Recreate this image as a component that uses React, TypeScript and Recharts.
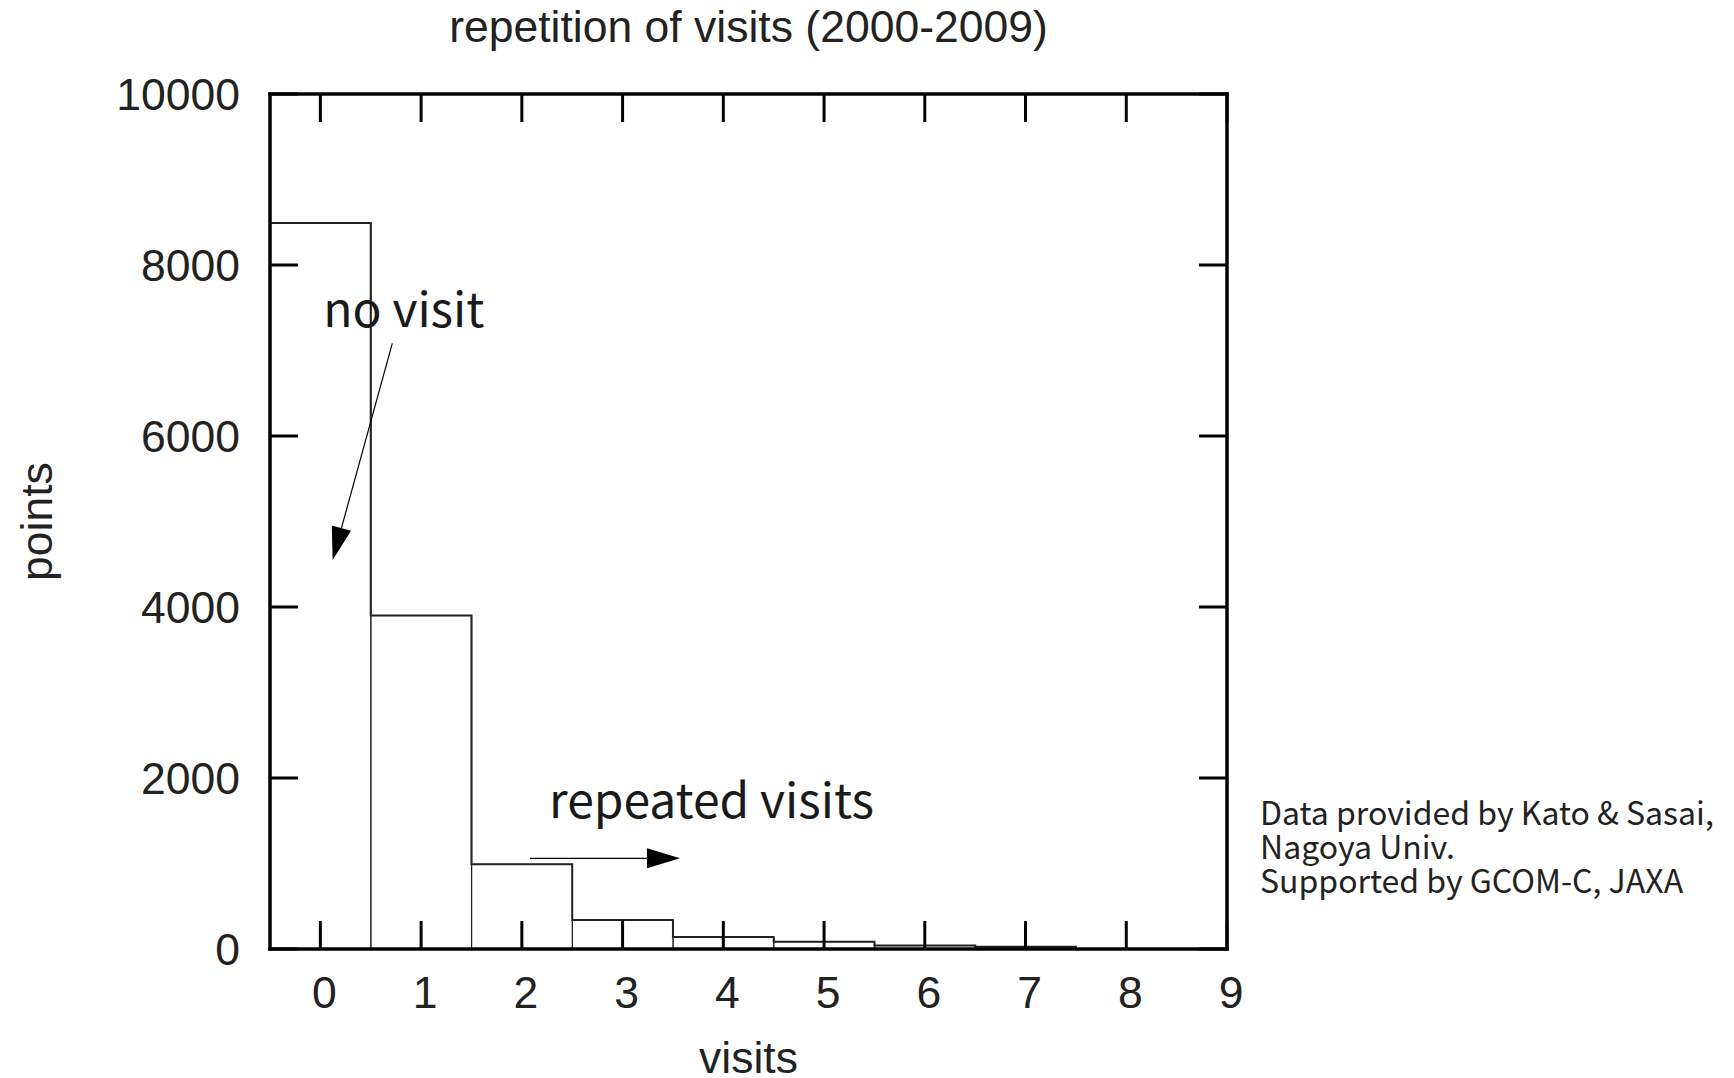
import { Bar, ComposedChart, Line, ReferenceDot, ReferenceLine, XAxis, YAxis } from "recharts";

// histogram: number of points by how many times they were visited
const visits = [0, 1, 2, 3, 4, 5, 6, 7, 8];
const points = [8490, 3900, 990, 340, 140, 85, 40, 25, 0];

const xTicks = [0, 1, 2, 3, 4, 5, 6, 7, 8, 9];
const yTicks = [0, 2000, 4000, 6000, 8000, 10000];

const credits = ["Data provided by Kato & Sasai,", "Nagoya Univ.", "Supported by GCOM-C, JAXA"];

const barData = visits.map((v, i) => ({ x: v, points: points[i] }));
// bin edges for the step outline (left edge of each bin, plus the closing edge)
const stepData = visits
  .map((v, i) => ({ x: v - 0.5, points: points[i] }))
  .concat([{ x: visits[visits.length - 1] + 0.5, points: 0 }]);

const W = 1718;
const H = 1070;
const PLOT_TOP = 86;
const PLOT_BOTTOM = 941;
const Y_AXIS_W = 262;
const RIGHT = 499;

const frame = { stroke: "#000", strokeWidth: 3.5, strokeLinecap: "square" as const };
const tickStroke = { stroke: "#000", strokeWidth: 3 };
const tickFont = { fontFamily: "'Liberation Sans', Arial, sans-serif", fontSize: 44.5, fill: "#222" };
const noteFont = "'Noto Sans CJK JP', 'Noto Sans', sans-serif";

// inner tick marks only, no label
const noLabel = () => <g />;

function arrowShape(p: any) {
  const { x1, y1, x2, y2 } = p;
  const a = Math.atan2(y2 - y1, x2 - x1);
  const len = 33;
  const half = 10;
  const bx = x2 - len * Math.cos(a);
  const by = y2 - len * Math.sin(a);
  const nx = -Math.sin(a);
  const ny = Math.cos(a);
  return (
    <g>
      <line x1={x1} y1={y1} x2={bx} y2={by} stroke="#000" strokeWidth={1.2} />
      <polygon
        points={`${x2},${y2} ${bx + nx * half},${by + ny * half} ${bx - nx * half},${by - ny * half}`}
        fill="#000"
      />
    </g>
  );
}

function note(text: string) {
  return (p: any) => (
    <text x={p.cx} y={p.cy} fontFamily={noteFont} fontSize={48} fill="#1a1a1a">
      {text}
    </text>
  );
}

export default function App() {
  const midX = (Y_AXIS_W + (W - RIGHT)) / 2;
  const midY = (PLOT_TOP + PLOT_BOTTOM) / 2;
  return (
    <div style={{ position: "relative", width: W, height: H, background: "#fff" }}>
      <ComposedChart
        width={W}
        height={H}
        data={barData}
        margin={{ top: PLOT_TOP, right: RIGHT, bottom: 0, left: 0 }}
        barCategoryGap={0}
        barGap={0}
      >
        <XAxis
          xAxisId="x"
          dataKey="x"
          type="number"
          domain={[-0.5, 9]}
          ticks={xTicks}
          allowDataOverflow
          height={H - PLOT_BOTTOM}
          axisLine={frame}
          tickLine={false}
          tickSize={0}
          tickMargin={27}
          tick={{ ...tickFont, dx: 4 }}
        />
        <XAxis
          xAxisId="xIn"
          dataKey="x"
          type="number"
          domain={[-0.5, 9]}
          ticks={xTicks}
          allowDataOverflow
          orientation="bottom"
          mirror
          axisLine={false}
          tickLine={tickStroke}
          tickSize={28}
          tick={noLabel}
        />
        <XAxis
          xAxisId="top"
          dataKey="x"
          type="number"
          domain={[-0.5, 9]}
          ticks={xTicks}
          allowDataOverflow
          orientation="top"
          mirror
          axisLine={frame}
          tickLine={tickStroke}
          tickSize={28}
          tick={noLabel}
        />
        <YAxis
          yAxisId="y"
          type="number"
          domain={[0, 10000]}
          ticks={yTicks}
          allowDataOverflow
          width={Y_AXIS_W}
          axisLine={frame}
          tickLine={false}
          tickSize={0}
          tickMargin={30}
          tick={tickFont}
        />
        <YAxis
          yAxisId="yIn"
          type="number"
          domain={[0, 10000]}
          ticks={yTicks}
          allowDataOverflow
          orientation="left"
          mirror
          axisLine={false}
          tickLine={tickStroke}
          tickSize={28}
          tick={noLabel}
        />
        <YAxis
          yAxisId="right"
          type="number"
          domain={[0, 10000]}
          ticks={yTicks}
          allowDataOverflow
          orientation="right"
          mirror
          axisLine={frame}
          tickLine={tickStroke}
          tickSize={28}
          tick={noLabel}
        />

        <Bar
          xAxisId="x"
          yAxisId="y"
          dataKey="points"
          fill="none"
          stroke="#222"
          strokeWidth={1}
          isAnimationActive={false}
        />
        {/* outline on its own x axis so the bin edges don't narrow the bars */}
        <Line
          xAxisId="xIn"
          yAxisId="y"
          data={stepData}
          dataKey="points"
          type="stepAfter"
          stroke="#222"
          strokeWidth={2}
          dot={false}
          activeDot={false}
          isAnimationActive={false}
        />

        <ReferenceLine
          xAxisId="x"
          yAxisId="y"
          segment={[
            { x: 0.714, y: 7084 },
            { x: 0.122, y: 4550 },
          ]}
          shape={arrowShape}
        />
        <ReferenceLine
          xAxisId="x"
          yAxisId="y"
          segment={[
            { x: 2.081, y: 1061 },
            { x: 3.57, y: 1061 },
          ]}
          shape={arrowShape}
        />
        <ReferenceDot xAxisId="x" yAxisId="y" x={0.029} y={7278} shape={note("no visit")} />
        <ReferenceDot xAxisId="x" yAxisId="y" x={2.27} y={1536} shape={note("repeated visits")} />
      </ComposedChart>

      <svg
        width={W}
        height={H}
        style={{ position: "absolute", left: 0, top: 0, pointerEvents: "none" }}
      >
        <text x={midX} y={34} textAnchor="middle" {...tickFont}>
          repetition of visits (2000-2009)
        </text>
        <text
          x={28}
          y={midY}
          textAnchor="middle"
          dominantBaseline="central"
          transform={`rotate(-90, 28, ${midY})`}
          {...tickFont}
        >
          points
        </text>
        <text x={midX} y={1065} textAnchor="middle" {...tickFont}>
          visits
        </text>
        {credits.map((line, i) => (
          <text key={line} x={1252} y={817 + i * 34} fontFamily={noteFont} fontSize={32} fill="#222">
            {line}
          </text>
        ))}
      </svg>
    </div>
  );
}
